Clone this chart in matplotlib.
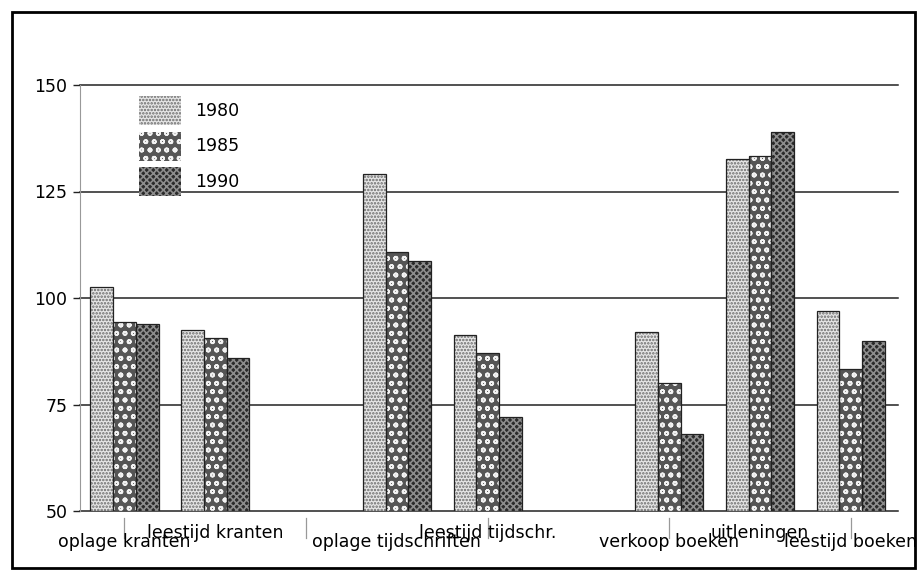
import matplotlib
matplotlib.use("Agg")
import matplotlib.pyplot as plt
from matplotlib.patches import Rectangle, Patch
import numpy as np

categories = ["oplage kranten", "leestijd kranten", "oplage tijdschriften",
              "leestijd tijdschr.", "verkoop boeken", "uitleningen", "leestijd boeken"]
media = ["kranten", "kranten", "tijdschriften", "tijdschriften", "boeken", "boeken", "boeken"]
years = ["1980", "1985", "1990"]
v1980 = [102.5, 92.5, 129.0, 91.3, 92.0, 132.7, 97.0]
v1985 = [94.3, 90.7, 110.8, 87.0, 80.0, 133.4, 83.3]
v1990 = [94.0, 86.0, 108.7, 72.0, 68.0, 139.0, 90.0]
series = [v1980, v1985, v1990]
yticks = [50, 75, 100, 125, 150]

plt.rcParams['font.family'] = ['DejaVu Sans']
plt.rcParams['hatch.linewidth'] = 1.2

W, H = 920, 580
fig = plt.figure(figsize=(W / 100, H / 100), dpi=100)
ax_l, ax_r, ax_t, ax_b = 80, 898, 85, 511
ax = fig.add_axes([ax_l / W, 1 - ax_b / H, (ax_r - ax_l) / W, (ax_b - ax_t) / H])

# slot positions: one empty slot between media groups
pos = []
slot = 0
for i, m in enumerate(media):
    if i > 0 and m != media[i - 1]:
        slot += 1
    pos.append(slot)
    if i < len(media) - 1:
        slot += 1
pos = np.array(pos, dtype=float)

styles = [
    dict(face="#e6e6e6", hatch=".....", hcol="#6a6a6a"),
    dict(face="#555555", hatch="oo", hcol="#f2f2f2"),
    dict(face="#2a2a2a", hatch="xxxxx", hcol="#8c8c8c"),
]
bw = 0.25
offsets = [-bw, 0, bw]
base = yticks[0]
for vals, st, off in zip(series, styles, offsets):
    heights = np.array(vals) - base
    ax.bar(pos + off, heights, bw, bottom=base, color=st["face"], hatch=st["hatch"],
           edgecolor=st["hcol"], linewidth=0, zorder=3)
    ax.bar(pos + off, heights, bw, bottom=base, fill=False,
           edgecolor="#222222", linewidth=0.9, zorder=4)

ax.set_xlim(-0.49, 8.52)
ax.set_ylim(50, 150)
ax.set_yticks(yticks)
ax.set_yticklabels([str(t) for t in yticks], fontsize=12.5)
ax.yaxis.grid(True, color="#222222", linewidth=1.1, zorder=0)
for gl in ax.get_ygridlines():
    gl.set_clip_on(False)
ax.set_axisbelow(True)
ax.tick_params(axis="y", length=5, width=1, color="#222222", pad=4)
ax.set_xticks([])
for s in ["top", "right", "bottom"]:
    ax.spines[s].set_visible(False)
ax.spines["left"].set_color("#999999")
ax.spines["left"].set_linewidth(0.8)

# category tick marks at every other slot
axh = ax_b - ax_t
xt = ax.get_xaxis_transform()
for s in np.arange(0, pos.max() + 1, 2):
    ax.plot([s, s], [-7 / axh, -27 / axh], transform=xt, color="#999999",
            lw=0.9, clip_on=False)

# staggered category labels
for i, (p, c) in enumerate(zip(pos, categories)):
    ybase = -27 / axh if i % 2 == 1 else -36 / axh
    ax.text(p, ybase, c, transform=xt, ha="center", va="baseline", fontsize=12.5,
            clip_on=False)

# legend
handles = [Patch(facecolor=st["face"], hatch=st["hatch"], edgecolor=st["hcol"], linewidth=0)
           for st in styles]
leg = fig.legend(handles, years, loc="upper left", bbox_to_anchor=(139 / W, 1 - 96 / H),
                 bbox_transform=fig.transFigure, frameon=False, borderpad=0,
                 borderaxespad=0, handlelength=2.4, handleheight=2.2,
                 labelspacing=0.37, handletextpad=0.85, fontsize=12.5)

# outer frame
fig.patches.append(Rectangle((12 / W, 1 - 568 / H), 903 / W, 556 / H,
                             transform=fig.transFigure, fill=False,
                             edgecolor="black", linewidth=2))

fig.savefig("out.png", dpi=100)
